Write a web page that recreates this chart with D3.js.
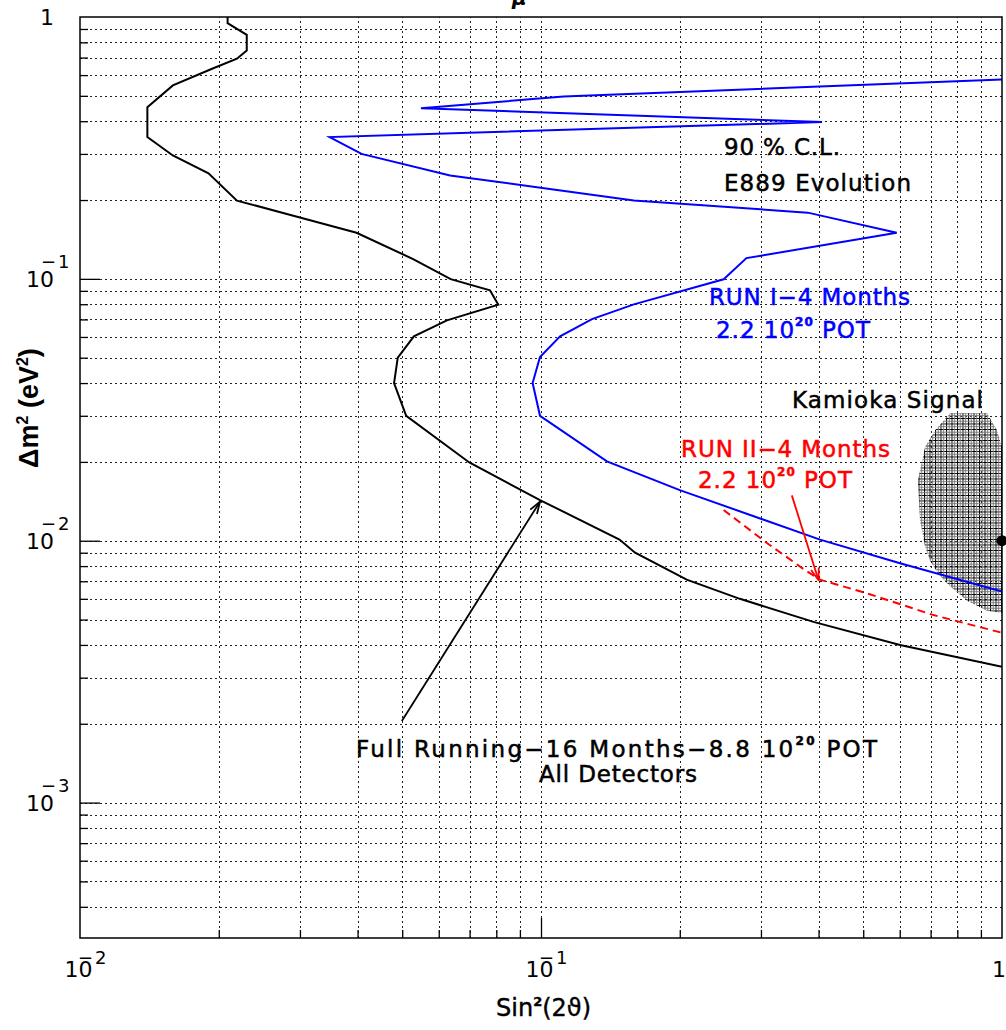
<!DOCTYPE html>
<html><head><meta charset="utf-8">
<script src="https://cdn.jsdelivr.net/npm/d3@7"></script>
<style>body{margin:0;background:#fff;} svg{display:block;}</style>
</head><body><svg id="c" width="1006" height="1030"></svg>
<script>
// ---------------- DATA ----------------
// Full Running - 16 Months - 8.8 10^20 POT (black)
const fullSin2 = [0.0209,0.0209,0.0230,0.0230,0.0219,0.0194,0.0159,0.0140,0.0140,0.0159,0.0190,0.0219,0.0281,0.0398,0.0528,0.0637,0.0775,0.0808,0.0625,0.0530,0.0489,0.0480,0.0510,0.0699,0.0995,0.148,0.160,0.207,0.270,0.390,0.601,1.0];
const fullDm2  = [1.0,0.947,0.855,0.745,0.693,0.636,0.548,0.452,0.348,0.296,0.253,0.199,0.177,0.150,0.119,0.0998,0.0904,0.0797,0.0694,0.0603,0.0500,0.0400,0.0300,0.0199,0.0143,0.0101,0.0090,0.0071,0.0060,0.0049,0.0040,0.0033];
// RUN I - 4 Months (blue)
const run1Sin2 = [1.0,0.402,0.112,0.0549,0.407,0.0348,0.0408,0.0635,0.098,0.159,0.379,0.591,0.279,0.249,0.159,0.129,0.110,0.0995,0.0959,0.0995,0.139,0.200,0.403,0.601,1.0];
const run1Dm2  = [0.577,0.543,0.497,0.4485,0.397,0.348,0.300,0.248,0.224,0.199,0.179,0.150,0.120,0.0996,0.0799,0.0702,0.0603,0.0503,0.0400,0.0300,0.0201,0.0156,0.0101,0.0082,0.0064];
// RUN II - 4 Months (red dashed)
const run2Sin2 = [0.249,0.309,0.371,0.403,0.509,0.710,1.0];
const run2Dm2  = [0.0131,0.0098,0.0078,0.0071,0.0063,0.0052,0.00445];
// Kamioka signal region
const kamSin2 = [0.772,0.928,0.975,1.0,1.0,0.928,0.840,0.772,0.726,0.698,0.681,0.664,0.657,0.681,0.716];
const kamDm2  = [0.0307,0.0307,0.0264,0.0228,0.0053,0.0054,0.0059,0.0067,0.0075,0.0084,0.0095,0.0120,0.0170,0.0228,0.0264];
const kamPointSin2 = [1.0];
const kamPointDm2  = [0.01];
// arrows
const arrowFullSin2 = [0.0499,0.0995];
const arrowFullDm2  = [0.00205,0.0141];
const arrowRun2Sin2 = [0.350,0.400];
const arrowRun2Dm2  = [0.0149,0.00707];
// axes
const xDomain = [0.01, 1];
const yDomain = [3.04e-4, 1];
const xMajor = [0.01, 0.1, 1];
const yMajor = [0.001, 0.01, 0.1, 1];
const xLabelExp = [-2, -1];
const yLabelExp = [-3, -2, -1];

// ---------------- CHART ----------------
const L = 80, R = 1002, T = 17, B = 938;
const x = d3.scaleLog().domain(xDomain).range([L, R]);
const y = d3.scaleLog().domain(yDomain).range([B, T]);
const svg = d3.select('#c');
const defs = svg.append('defs');
defs.append('clipPath').attr('id','plot').append('rect')
  .attr('x',L).attr('y',T).attr('width',R-L).attr('height',B-T);
const pat = defs.append('pattern').attr('id','hatch')
  .attr('patternUnits','userSpaceOnUse').attr('width',5.5).attr('height',5.5);
pat.append('path').attr('d','M0,0.5H5.5M0.5,0V5.5').attr('stroke','#000').attr('stroke-width',1).attr('fill','none');
pat.append('path').attr('d','M0,3.2H5.5M3.2,0V5.5').attr('stroke','#777').attr('stroke-width',1).attr('fill','none');

function arrowMarker(id, color){
  defs.append('marker').attr('id',id).attr('viewBox','0 0 14 10')
    .attr('refX',13).attr('refY',5).attr('markerWidth',14).attr('markerHeight',10)
    .attr('markerUnits','userSpaceOnUse').attr('orient','auto')
    .append('path').attr('d','M1,1 L13,5 L1,9').attr('fill','none')
    .attr('stroke',color).attr('stroke-width',1.8);
}
arrowMarker('arrB','#000');
arrowMarker('arrR','#ff0000');

// grid values
const gridY = [], gridX = [];
for (let d=-4; d<=0; d++) for (let k=1;k<=9;k++){
  const v = k*Math.pow(10,d);
  if (v>yDomain[0]*1.001 && v<0.999) gridY.push(v);
  if (v>xDomain[0]*1.001 && v<0.999) gridX.push(v);
}
const minorY = gridY.filter(v=>!yMajor.some(m=>Math.abs(m-v)/m<1e-6));
const minorX = gridX.filter(v=>!xMajor.some(m=>Math.abs(m-v)/m<1e-6));

function styleGrid(g){
  g.select('.domain').remove();
  g.selectAll('.tick line').attr('stroke','#222').attr('stroke-width',1)
    .attr('stroke-dasharray','2,3').attr('shape-rendering','crispEdges');
  g.selectAll('.tick text').remove();
}
svg.append('g').attr('transform',`translate(${L},0)`)
  .call(d3.axisLeft(y).tickValues(gridY).tickSize(-(R-L)).tickFormat(''))
  .call(styleGrid);
svg.append('g').attr('transform',`translate(0,${B})`)
  .call(d3.axisBottom(x).tickValues(gridX).tickSize(-(B-T)).tickFormat(''))
  .call(styleGrid);

function styleTicks(g){
  g.select('.domain').remove();
  g.selectAll('.tick line').attr('stroke','#000').attr('stroke-width',1.3);
  g.selectAll('.tick text').remove();
}
svg.append('g').attr('transform',`translate(${L},0)`)
  .call(d3.axisLeft(y).tickValues(minorY).tickSize(-8).tickFormat('')).call(styleTicks);
svg.append('g').attr('transform',`translate(${L},0)`)
  .call(d3.axisLeft(y).tickValues(yMajor.filter(v=>v<0.999)).tickSize(-20).tickFormat('')).call(styleTicks);
svg.append('g').attr('transform',`translate(0,${B})`)
  .call(d3.axisBottom(x).tickValues(minorX).tickSize(-8).tickFormat('')).call(styleTicks);
svg.append('g').attr('transform',`translate(0,${B})`)
  .call(d3.axisBottom(x).tickValues([0.1]).tickSize(-20).tickFormat('')).call(styleTicks);

// data layer
const plot = svg.append('g').attr('clip-path','url(#plot)');
const line = d3.line().x(d=>x(d[0])).y(d=>y(d[1]));
const zip = (a,b)=>a.map((v,i)=>[v,b[i]]);

plot.append('path').datum(zip(kamSin2,kamDm2))
  .attr('d', d3.line().x(d=>x(d[0])).y(d=>y(d[1])).curve(d3.curveLinearClosed))
  .attr('fill','url(#hatch)').attr('stroke','none');

plot.append('path').datum(zip(fullSin2,fullDm2)).attr('d',line)
  .attr('fill','none').attr('stroke','#000').attr('stroke-width',2);
plot.append('path').datum(zip(run1Sin2,run1Dm2)).attr('d',line)
  .attr('fill','none').attr('stroke','#0000ff').attr('stroke-width',2);
plot.append('path').datum(zip(run2Sin2,run2Dm2)).attr('d',line)
  .attr('fill','none').attr('stroke','#ff0000').attr('stroke-width',2).attr('stroke-dasharray','8,5');

svg.append('path').datum(zip(arrowFullSin2,arrowFullDm2)).attr('d',line)
  .attr('fill','none').attr('stroke','#000').attr('stroke-width',1.8).attr('marker-end','url(#arrB)');
svg.append('path').datum(zip(arrowRun2Sin2,arrowRun2Dm2)).attr('d',line)
  .attr('fill','none').attr('stroke','#ff0000').attr('stroke-width',1.8).attr('marker-end','url(#arrR)');

// frame
svg.append('rect').attr('x',L).attr('y',T).attr('width',R-L).attr('height',B-T)
  .attr('fill','none').attr('stroke','#000').attr('stroke-width',1.5);

svg.selectAll('circle.kp').data(zip(kamPointSin2,kamPointDm2)).enter().append('circle')
  .attr('class','kp').attr('cx',d=>x(d[0])).attr('cy',d=>y(d[1])).attr('r',5.5).attr('fill','#000');

// tick labels
const TF = 'DejaVu Sans';
yLabelExp.forEach(e=>{
  const v = Math.pow(10,e), py = y(v);
  svg.append('text').attr('x',54).attr('y',py+8).attr('text-anchor','end')
    .style('font-family',TF).style('font-size','22px').text('10');
  const s = svg.append('text').attr('x',41).attr('y',py-11)
    .style('font-family',TF).style('font-size','18px');
  s.append('tspan').text('\u2212');
  s.append('tspan').attr('dx',2).text(String(-e));
});
svg.append('text').attr('x',54).attr('y',y(1)+8).attr('text-anchor','end')
  .style('font-family',TF).style('font-size','22px').text('1');
xLabelExp.forEach(e=>{
  const v = Math.pow(10,e), px = x(v);
  svg.append('text').attr('x',px-15.5).attr('y',977)
    .style('font-family',TF).style('font-size','22px').text('10');
  const s = svg.append('text').attr('x',px-2).attr('y',964)
    .style('font-family',TF).style('font-size','18px');
  s.append('tspan').text('\u2212');
  s.append('tspan').attr('dx',2).text(String(-e));
});
svg.append('text').attr('x',x(1)-3).attr('y',977).attr('text-anchor','middle')
  .style('font-family',TF).style('font-size','22px').text('1');

// axis titles
const yt = svg.append('text').attr('transform','translate(38,408) rotate(-90)')
  .attr('text-anchor','middle').style('font-family','Liberation Sans, Arial')
  .style('font-size','27px').style('font-weight','bold');
yt.append('tspan').text('\u0394m');
yt.append('tspan').attr('dy',-10).style('font-size','16px').text('2');
yt.append('tspan').attr('dy',10).text(' (eV');
yt.append('tspan').attr('dy',-10).style('font-size','16px').text('2');
yt.append('tspan').attr('dy',10).text(')');

const xt = svg.append('text').attr('x',496).attr('y',1016)
  .style('font-family',TF).style('font-size','24px')
  .attr('stroke','#000').attr('stroke-width',0.4);
xt.append('tspan').text('Sin');
xt.append('tspan').attr('dy',-10).style('font-size','13px').style('font-weight','bold').text('2');
xt.append('tspan').attr('dy',10).text('(2\u03D1)');

// partial title at top
svg.append('text').attr('x',512).attr('y',5).style('font-family',TF)
  .style('font-size','20px').style('font-style','italic').style('font-weight','bold').text('\u03BC');

// annotations
const notes = [
  {x:724,y:155,c:'#000',w:116,parts:['90 % C.L.']},
  {x:724,y:191,c:'#000',w:187,parts:['E889 Evolution']},
  {x:709,y:305,c:'#0000ff',w:201,parts:['RUN I\u22124 Months']},
  {x:716,y:338,c:'#0000ff',w:154,parts:['2.2 10',{sup:'20'},' POT']},
  {x:792,y:408,c:'#000',w:191,parts:['Kamioka Signal']},
  {x:681,y:457,c:'#ff0000',w:209,parts:['RUN II\u22124 Months']},
  {x:698,y:488,c:'#ff0000',w:154,parts:['2.2 10',{sup:'20'},' POT']},
  {x:356,y:757,c:'#000',w:521,parts:['Full Running\u221216 Months\u22128.8 10',{sup:'20'},' POT']},
  {x:539,y:782,c:'#000',w:158,parts:['All Detectors']}
];
notes.forEach(n=>{
  const t = svg.append('text').attr('x',n.x).attr('y',n.y).attr('fill',n.c)
    .attr('stroke',n.c).attr('stroke-width',0.5)
    .style('font-family',TF).style('font-size','23px');
  let up = false;
  n.parts.forEach(p=>{
    if (typeof p === 'string'){
      const ts = t.append('tspan').text(p);
      if (up){ ts.attr('dy',12); up=false; }
    } else {
      t.append('tspan').attr('dy',-12).style('font-size','12px').style('font-weight','bold').text(p.sup);
      up = true;
    }
  });
  t.attr('textLength',n.w).attr('lengthAdjust','spacing');
});
</script></body></html>
